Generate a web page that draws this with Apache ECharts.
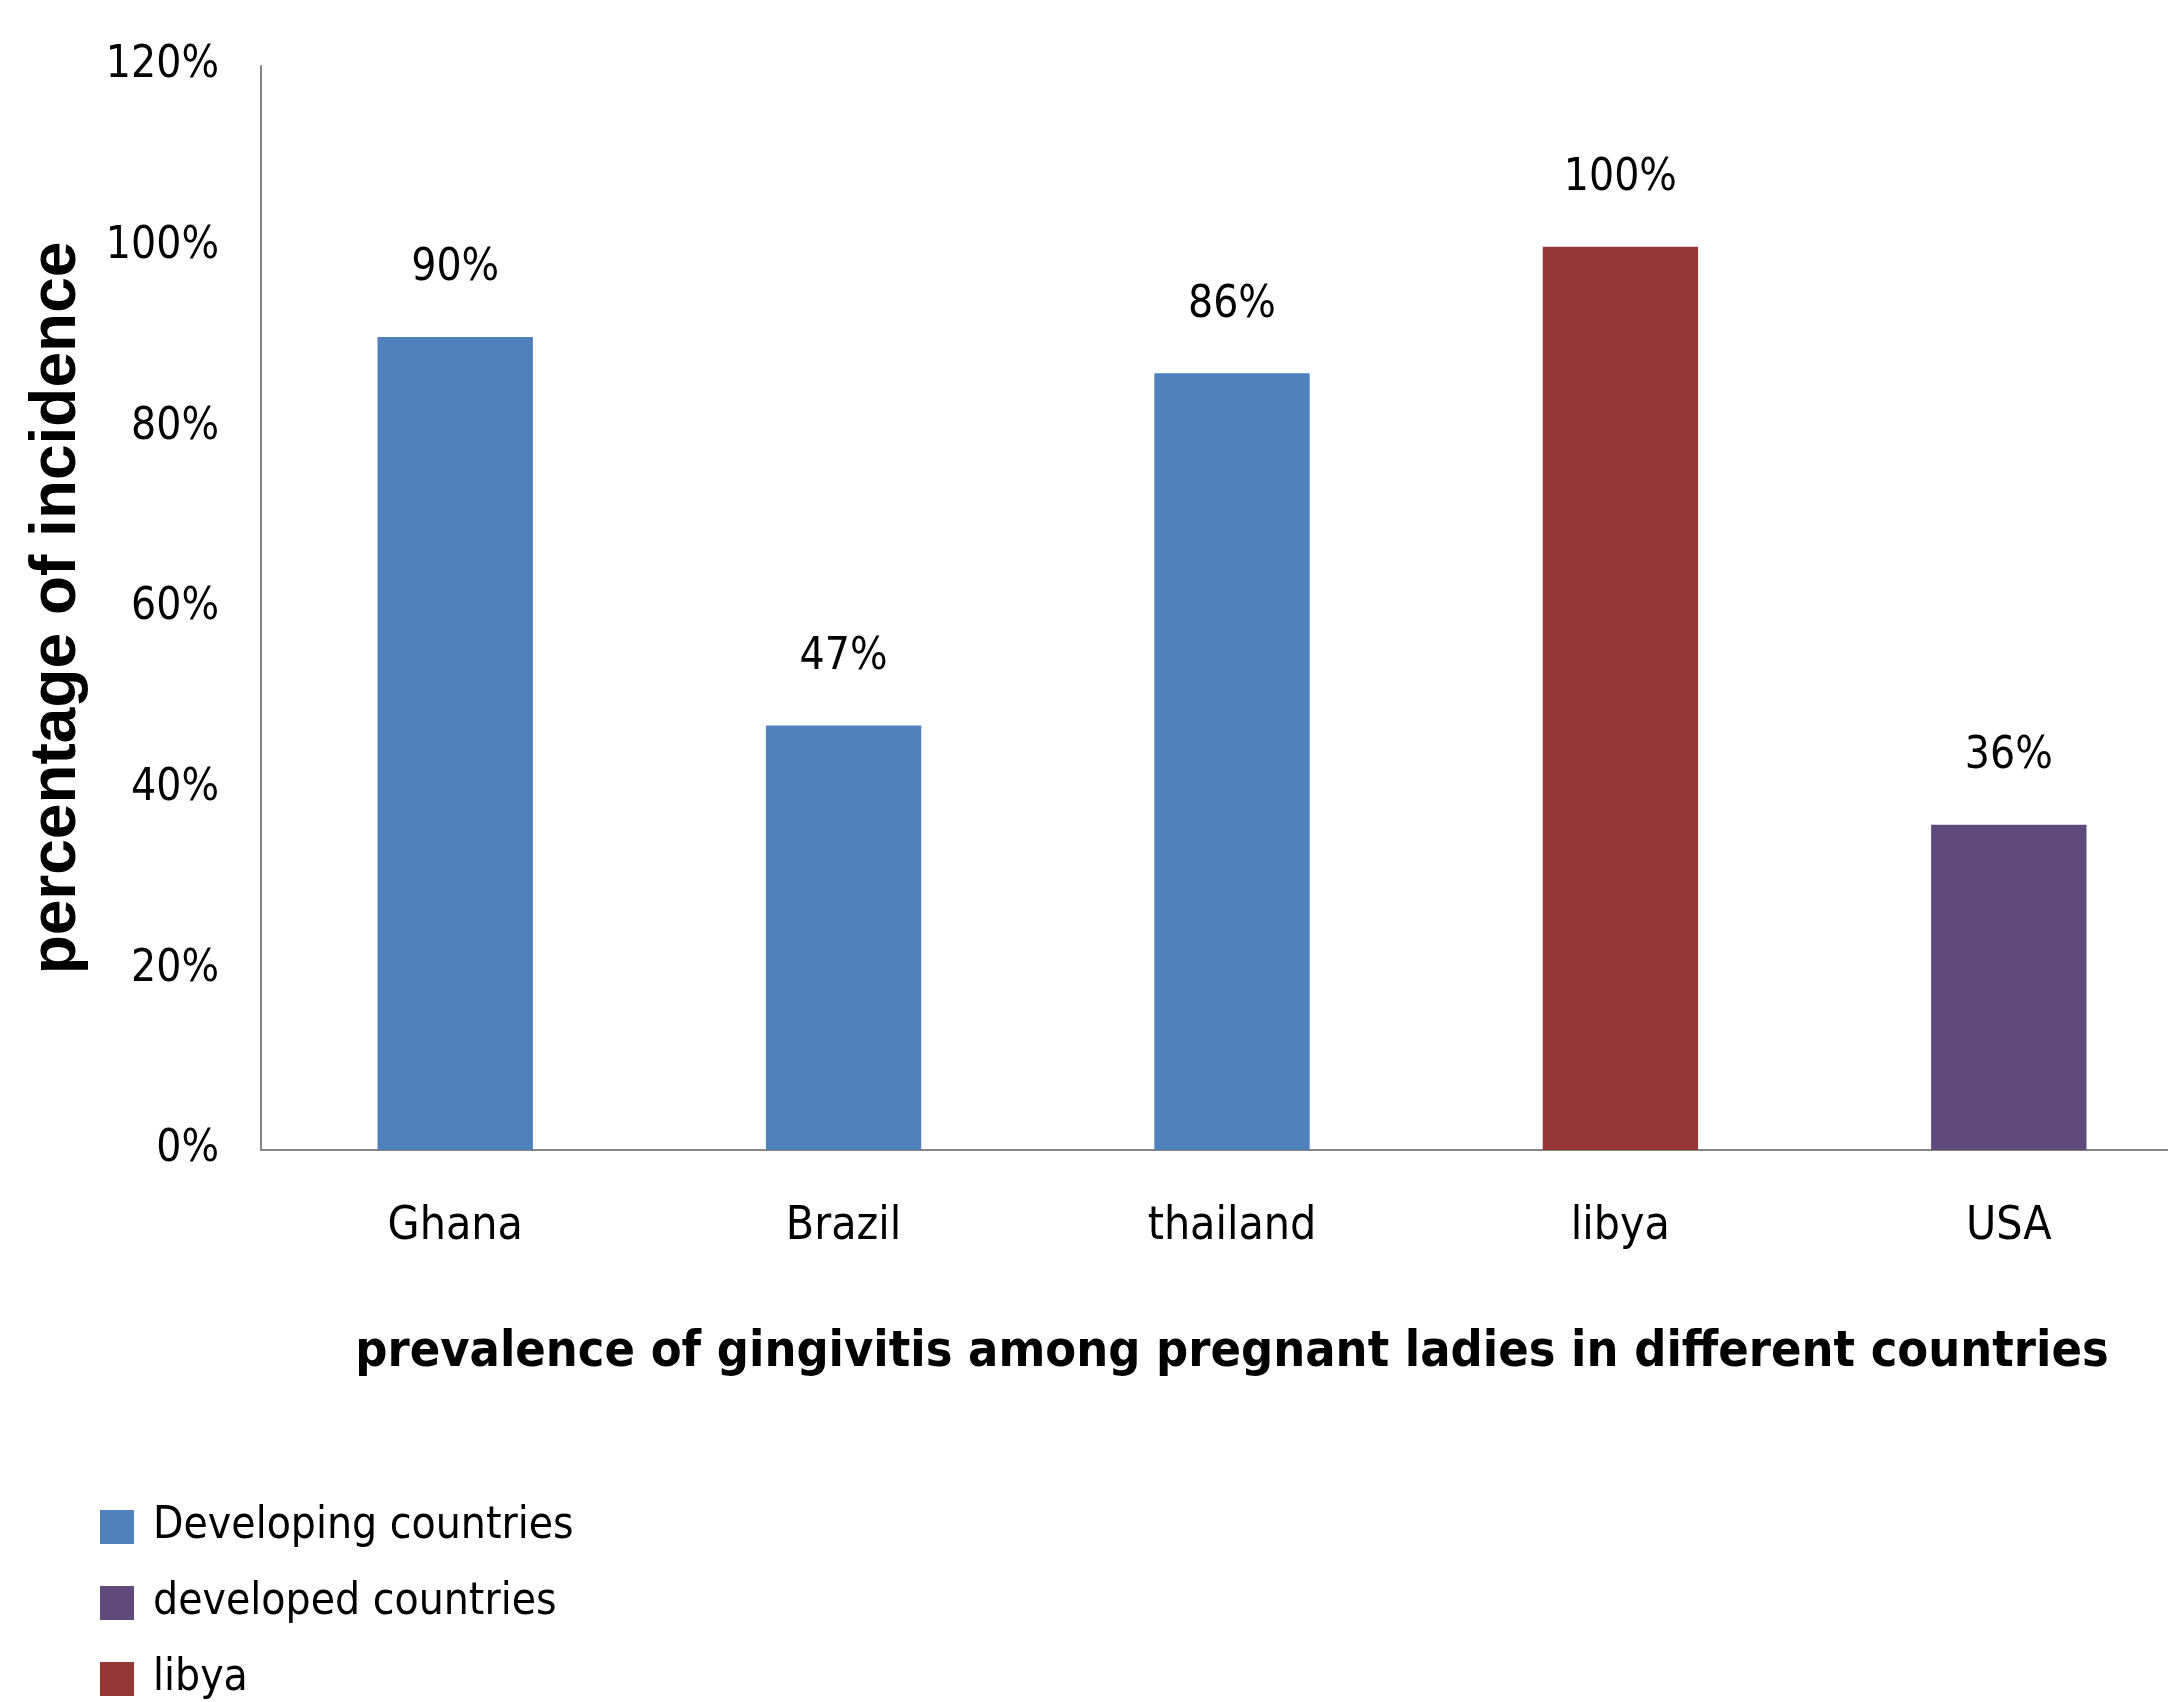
<!DOCTYPE html>
<html>
<head>
<meta charset="utf-8">
<script src="https://cdn.jsdelivr.net/npm/echarts@6/dist/echarts.min.js"></script>
<style>
  html, body { margin: 0; padding: 0; background: #fff; }
  #chart { width: 2168px; height: 1702px; }
</style>
</head>
<body>
<div id="chart"></div>
<script>
const countries = ["Ghana", "Brazil", "thailand", "libya", "USA"];
const developing = [90, 47, 86, null, null];
const developed = [null, null, null, null, 36];
const libya = [null, null, null, 100, null];
const yTicks = [0, 20, 40, 60, 80, 100, 120];

const narrow = '"DejaVu Sans Condensed", "Liberation Sans Narrow", "Open Sans", sans-serif';

const chart = echarts.init(document.getElementById("chart"));

function barSeries(name, data, color) {
  return {
    name: name,
    type: "bar",
    stack: "all",
    barWidth: "40%",
    data: data,
    itemStyle: { color: color },
    label: {
      show: true,
      position: "top",
      distance: 46,
      formatter: "{c}%",
      color: "#000",
      fontFamily: narrow,
      fontSize: 44,
    },
  };
}

chart.setOption({
  animation: false,
  grid: { left: 261, top: 66, right: -35, bottom: 552, outerBoundsMode: "none" },
  legend: {
    orient: "vertical",
    left: 95,
    top: 1500,
    height: 400,
    data: ["Developing countries", "developed countries", "libya"],
    itemWidth: 34,
    itemHeight: 34,
    itemGap: 32,
    icon: "rect",
    textStyle: { fontFamily: narrow, fontSize: 44, lineHeight: 34, color: "#000", padding: [0, 0, 0, 14] },
  },
  xAxis: {
    type: "category",
    data: countries,
    axisLine: { lineStyle: { color: "#868686", width: 2 } },
    axisTick: { show: false },
    axisLabel: { color: "#000", fontFamily: narrow, fontSize: 46, margin: 54 },
    name: "prevalence of gingivitis among pregnant ladies in different countries",
    nameLocation: "middle",
    nameGap: 178,
    nameTextStyle: { color: "#000", fontFamily: narrow, fontSize: 50, fontWeight: "bold" },
  },
  yAxis: {
    type: "value",
    min: yTicks[0],
    max: yTicks[yTicks.length - 1],
    interval: 20,
    axisLine: { show: true, lineStyle: { color: "#868686", width: 2 } },
    axisTick: { show: false },
    splitLine: { show: false },
    axisLabel: { color: "#000", fontFamily: narrow, fontSize: 44, margin: 42, formatter: "{value}%" },
    name: "percentage of incidence",
    nameLocation: "middle",
    nameRotate: 90,
    nameGap: 172,
    nameTextStyle: { color: "#000", fontFamily: '"Liberation Sans", Arial, sans-serif', fontSize: 64, fontWeight: "bold" },
  },
  series: [
    barSeries("Developing countries", developing, "#4F81BD"),
    barSeries("developed countries", developed, "#604A7B"),
    barSeries("libya", libya, "#953735"),
  ],
});
</script>
</body>
</html>
